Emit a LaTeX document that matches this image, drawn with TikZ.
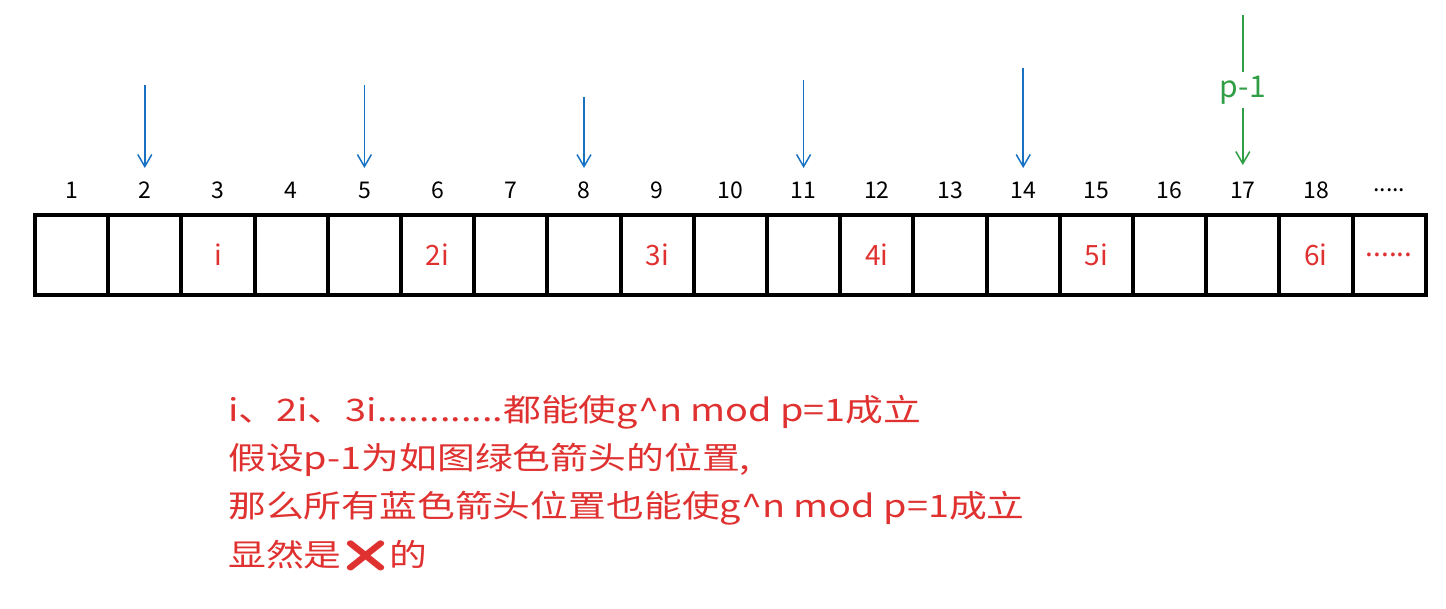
\documentclass[tikz,border=0pt]{standalone}
\usepackage{fontspec}
\usetikzlibrary{arrows.meta}
\setmainfont{Noto Sans CJK SC}
\newfontfamily\emo{Noto Emoji}
\definecolor{myred}{HTML}{E03131}
\definecolor{myblue}{HTML}{1971C2}
\definecolor{mygreen}{HTML}{2F9E44}
\newcommand\mydots{{.}{.}{.}{.}{.}{.}}
\begin{document}
\begin{tikzpicture}[x=1pt,y=-1pt,
  cell/.style={draw=black,line width=4pt,minimum width=73.2pt,minimum height=80pt,inner sep=0pt,font=\fontsize{28}{30}\selectfont,text=myred},
  num/.style={font=\fontsize{23}{24}\selectfont},
  barr/.style={draw=myblue,line width=1.5pt,-{Straight Barb[length=12pt,width=14pt]}},
  txt/.style={anchor=west,text=myred,font=\fontsize{31}{32}\selectfont,inner sep=0pt,xscale=1.22,transform shape}]
\useasboundingbox (0,0) rectangle (1446,608);
\foreach \i/\t in {1/,2/,3/i,4/,5/,6/2i,7/,8/,9/3i,10/,11/,12/4i,13/,14/,15/5i,16/,17/,18/6i,19/\mydots}{
  \node[cell] (c\i) at ({35+73.2*(\i-0.5)},255) {\t};
  \ifnum\i<19 \node[num] (n\i) at ({35+73.2*(\i-0.5)},190) {\i};\fi
}
\node[num] (n19) at (c19.center |- 0,190) {{.}{.}{.}{.}{.}};
\foreach \i/\y in {2/85,5/85,8/97,11/80,14/68}{
  \coordinate (s\i) at (c\i.center |- 0,\y);
  \coordinate (e\i) at (c\i.center |- 0,168);
  \draw[barr] (s\i) -- (e\i);
}
\coordinate (g1) at (c17.center |- 0,15);
\coordinate (g2) at (c17.center |- 0,165);
\node[text=mygreen,font=\fontsize{30}{32}\selectfont] (pl) at (c17.center |- 0,90) {p-1};
\draw[mygreen,line width=1.5pt] (g1) -- (pl.north);
\draw[mygreen,line width=1.5pt,-{Straight Barb[length=12pt,width=14pt]}] (pl.south) -- (g2);
\node[txt] (t1) at (228,412) {i、2i、3i{.}{.}{.}{.}{.}{.}{.}{.}{.}{.}{.}{.}都能使g\^{}n mod p=1成立};
\node[txt] (t2) at (228,460) {假设p-1为如图绿色箭头的位置,};
\node[txt] (t3) at (228,508) {那么所有蓝色箭头位置也能使g\^{}n mod p=1成立};
\node[txt] (t4) at (228,556) {显然是{\emo\color{myred}❌}的};
\end{tikzpicture}
\end{document}
